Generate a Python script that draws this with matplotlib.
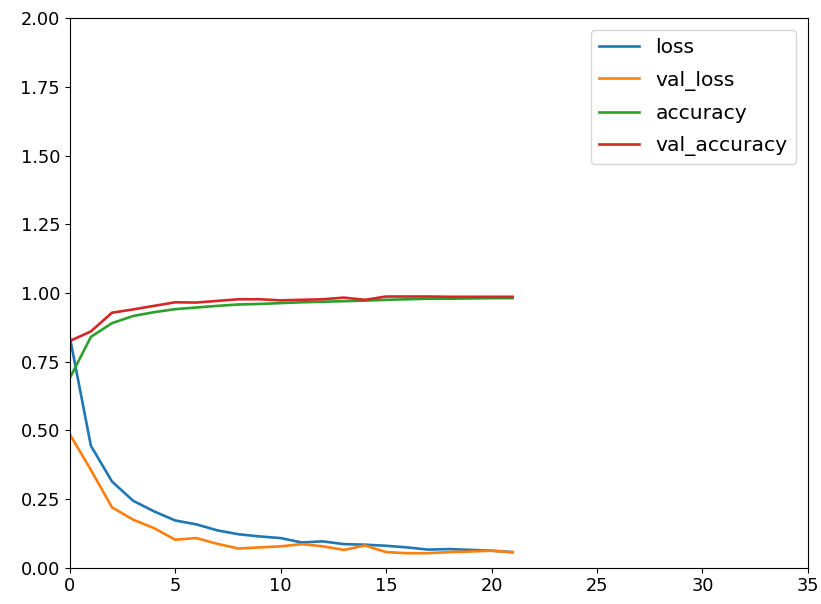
import matplotlib.pyplot as plt

epochs = list(range(22))
loss = [0.84, 0.444, 0.314, 0.244, 0.205, 0.172, 0.158, 0.136, 0.122, 0.114, 0.108,
        0.092, 0.096, 0.086, 0.084, 0.080, 0.074, 0.066, 0.068, 0.065, 0.062, 0.057]
val_loss = [0.486, 0.356, 0.22, 0.175, 0.144, 0.102, 0.108, 0.087, 0.07, 0.074, 0.078,
            0.086, 0.078, 0.065, 0.081, 0.057, 0.053, 0.053, 0.057, 0.059, 0.062, 0.056]
accuracy = [0.69, 0.84, 0.89, 0.916, 0.93, 0.941, 0.947, 0.953, 0.958, 0.960, 0.963,
            0.966, 0.968, 0.970, 0.972, 0.975, 0.977, 0.979, 0.979, 0.980, 0.981, 0.981]
val_accuracy = [0.825, 0.86, 0.928, 0.94, 0.953, 0.966, 0.965, 0.971, 0.977, 0.977, 0.973,
                0.975, 0.977, 0.983, 0.975, 0.987, 0.987, 0.987, 0.986, 0.986, 0.986, 0.986]

plt.rcParams['font.size'] = 12.8

fig = plt.figure(figsize=(8.21, 6.04), dpi=100)
ax = fig.add_axes([0.085, 0.06, 0.899, 0.91])

lw = 1.9
ax.plot(epochs, loss, label='loss', lw=lw)
ax.plot(epochs, val_loss, label='val_loss', lw=lw)
ax.plot(epochs, accuracy, label='accuracy', lw=lw)
ax.plot(epochs, val_accuracy, label='val_accuracy', lw=lw)

ax.set_xlim(0, 35)
ax.set_ylim(0, 2)
ax.legend(loc='upper right', fontsize=14.6, labelspacing=0.65, borderaxespad=0.6)

fig.savefig('out.png', dpi=100)
